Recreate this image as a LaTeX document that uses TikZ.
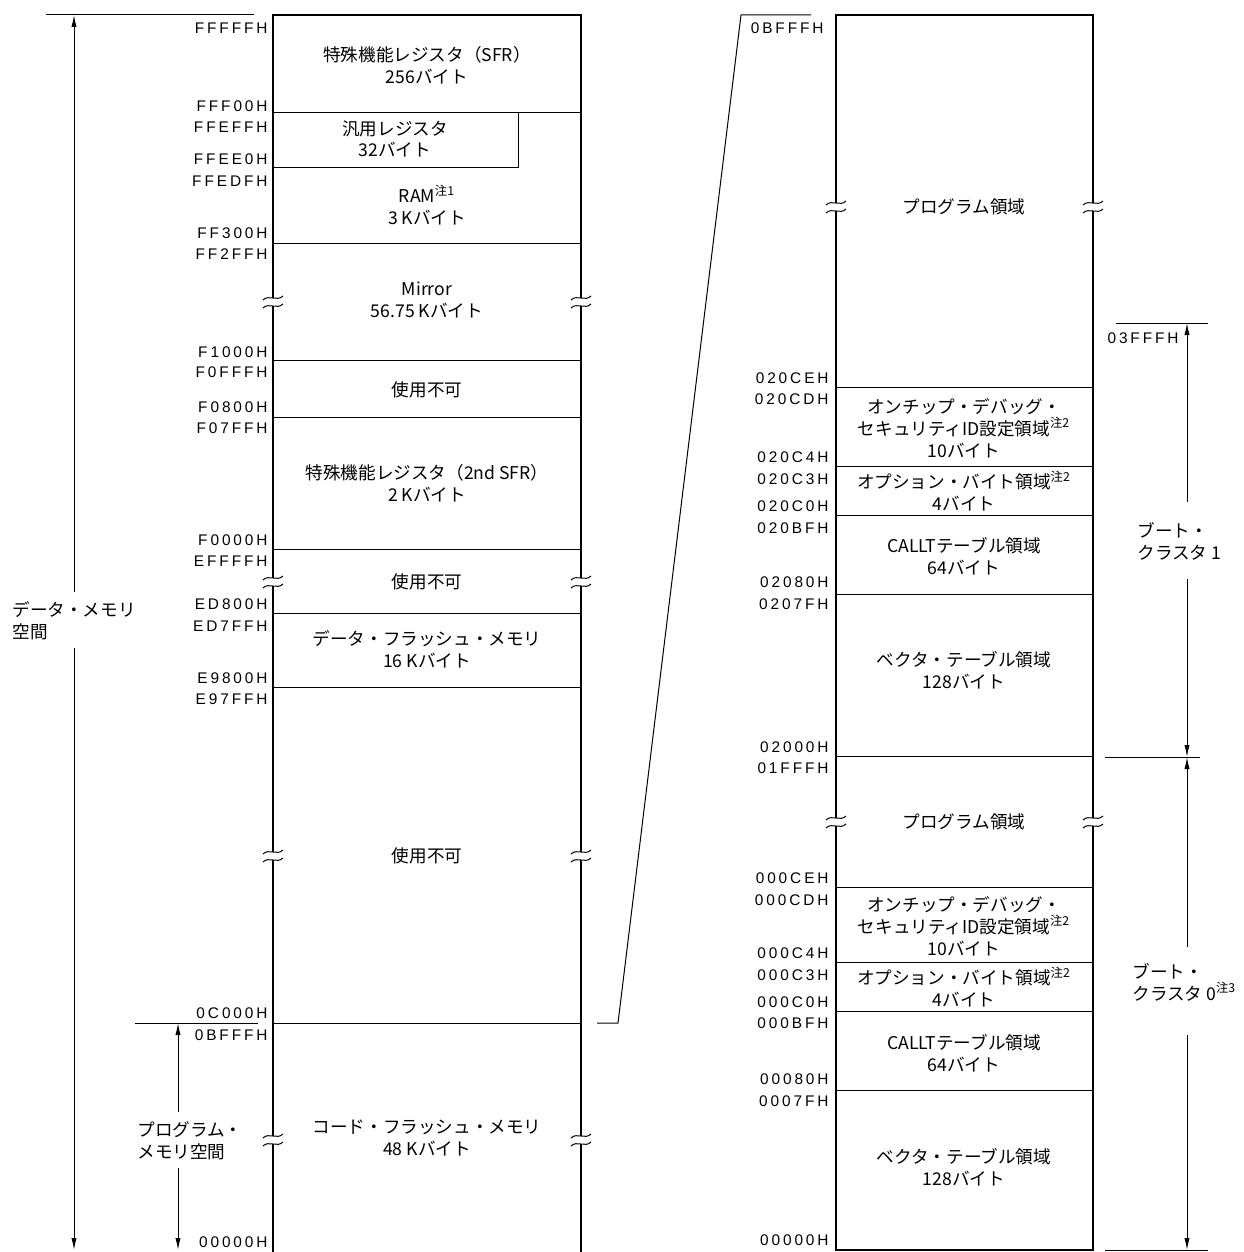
\documentclass[tikz,border=0pt]{standalone}
\usepackage{fontspec}
\setmainfont{Noto Sans CJK JP}
\newfontfamily\addrfont[LetterSpace=19]{Liberation Sans}
\usetikzlibrary{arrows.meta}
\newcommand{\chu}[1]{\textsuperscript{注#1}}
\begin{document}
\begin{tikzpicture}[x=0.5pt,y=-0.5pt,
    addr/.style={anchor=east,inner sep=0pt,font=\addrfont\fontsize{7.7}{9}\selectfont},
    area/.style={align=center,inner sep=0pt,font=\fontsize{8.8}{10.9}\selectfont},
    lbl/.style={align=left,anchor=west,inner sep=0pt,font=\fontsize{8.8}{10.9}\selectfont},
    frame/.style={line width=1pt},
    sep/.style={line width=0.5pt},
    dim/.style={line width=0.5pt,-{Latex[length=6pt,width=2.6pt]}},
    pics/gap/.style={code={
        \fill[white] (-2.5,-4) rectangle (2.5,4);
        \draw[sep] (-10,-2) .. controls (-4,-8) and (4,0) .. (10,-6);
        \draw[sep] (-10,6) .. controls (-4,0) and (4,8) .. (10,2);
    }}]
\useasboundingbox (0,0) rectangle (1243,1252);

% left map: whole address space
\draw[frame] (273,1252) -- (273,15) -- (581,15) -- (581,1252);
\foreach \y in {113,243,360,417,549,613,687,1023}
    \draw[sep] (273,\y) -- (581,\y);
\draw[sep] (273,167) -- (518,167) -- (518,113);
\foreach \y in {302,582,856,1140} {
    \pic at (273,\y) {gap};
    \pic at (581,\y) {gap};
}
\foreach \a/\y in {FFFFFH/28,FFF00H/106,FFEFFH/127,FFEE0H/159,FFEDFH/181,
        FF300H/233,FF2FFH/254,F1000H/352,F0FFFH/372,F0800H/407,F07FFH/428,
        F0000H/540,EFFFFH/561,ED800H/604,ED7FFH/626,E9800H/678,E97FFH/699,
        0C000H/1013,0BFFFH/1035,00000H/1242}
    \node[addr] (L\a) at (268,\y) {\a};

\node[area] (sfr) at (427,65) {特殊機能レジスタ（SFR）\\256バイト};
\node[area] (greg) at (395,139) {汎用レジスタ\\32バイト};
\node[area] (ram) at (427,205) {RAM\chu{1}\\3 Kバイト};
\node[area] (mirror) at (427,300) {Mirror\\56.75 Kバイト};
\node[area] (rsv1) at (427,390) {使用不可};
\node[area] (sfr2) at (427,483) {特殊機能レジスタ（2nd SFR）\\2 Kバイト};
\node[area] (rsv2) at (427,582) {使用不可};
\node[area] (dflash) at (427,649) {データ・フラッシュ・メモリ\\16 Kバイト};
\node[area] (rsv3) at (427,856) {使用不可};
\node[area] (cflash) at (427,1138) {コード・フラッシュ・メモリ\\48 Kバイト};

% spans on the left
\draw[sep] (46,15) -- (254,15);
\draw[sep] (135,1023) -- (258,1023);
\node[lbl] (dmem) at (12,621) {データ・メモリ\\空間};
\node[lbl] (pmem) at (137,1141) {プログラム・\\メモリ空間};
\coordinate (dtop) at (74,15);
\coordinate (dup) at (74,592);
\coordinate (ddown) at (74,648);
\coordinate (dbot) at (74,1250);
\coordinate (ptop) at (178,1023);
\coordinate (pup) at (178,1112);
\coordinate (pdown) at (178,1168);
\coordinate (pbot) at (178,1250);
\draw[dim] (dup) -- (dtop);
\draw[dim] (ddown) -- (dbot);
\draw[dim] (pup) -- (ptop);
\draw[dim] (pdown) -- (pbot);

% zoom line to the right map
\draw[sep] (597,1023) -- (618,1023) -- (741,15) -- (811,15);

% right map: code flash detail
\draw[frame] (836,15) rectangle (1093,1250);
\foreach \y in {387,466,515,594,756,887,962,1011,1090}
    \draw[sep] (836,\y) -- (1093,\y);
\foreach \y in {207,822} {
    \pic at (836,\y) {gap};
    \pic at (1093,\y) {gap};
}
\node[addr] (R0BFFFH) at (824,28) {0BFFFH};
\foreach \a/\y in {020CEH/378,020CDH/399,020C4H/457,020C3H/479,020C0H/506,
        020BFH/528,02080H/582,0207FH/604,02000H/747,01FFFH/768,000CEH/878,
        000CDH/900,000C4H/953,000C3H/975,000C0H/1002,000BFH/1023,
        00080H/1079,0007FH/1101,00000H/1240}
    \node[addr] (R\a) at (829,\y) {\a};

\node[area] (prog1) at (964,207) {プログラム領域};
\node[area] (ocd1) at (964,428) {オンチップ・デバッグ・\\セキュリティID設定領域\chu{2}\\10バイト};
\node[area] (opt1) at (964,491) {オプション・バイト領域\chu{2}\\4バイト};
\node[area] (callt1) at (964,556) {CALLTテーブル領域\\64バイト};
\node[area] (vect1) at (964,670) {ベクタ・テーブル領域\\128バイト};
\node[area] (prog0) at (964,822) {プログラム領域};
\node[area] (ocd0) at (964,926) {オンチップ・デバッグ・\\セキュリティID設定領域\chu{2}\\10バイト};
\node[area] (opt0) at (964,987) {オプション・バイト領域\chu{2}\\4バイト};
\node[area] (callt0) at (964,1053) {CALLTテーブル領域\\64バイト};
\node[area] (vect0) at (964,1167) {ベクタ・テーブル領域\\128バイト};

% boot clusters
\draw[sep] (1116,323) -- (1208,323);
\draw[sep] (1105,757) -- (1200,757);
\draw[sep] (1105,1250) -- (1208,1250);
\node[addr] (R03FFFH) at (1179,338) {03FFFH};
\node[lbl] (boot1) at (1137,541) {ブート・\\クラスタ 1};
\node[lbl] (boot0) at (1132,982) {ブート・\\クラスタ 0\chu{3}};
\coordinate (atop) at (1187,323);
\coordinate (aup) at (1187,502);
\coordinate (adown) at (1187,579);
\coordinate (amid) at (1187,757);
\coordinate (bup) at (1187,947);
\coordinate (bdown) at (1187,1035);
\coordinate (bbot) at (1187,1250);
\draw[dim] (aup) -- (atop);
\draw[dim] (adown) -- (amid);
\draw[dim] (bup) -- (amid);
\draw[dim] (bdown) -- (bbot);
\end{tikzpicture}
\end{document}
